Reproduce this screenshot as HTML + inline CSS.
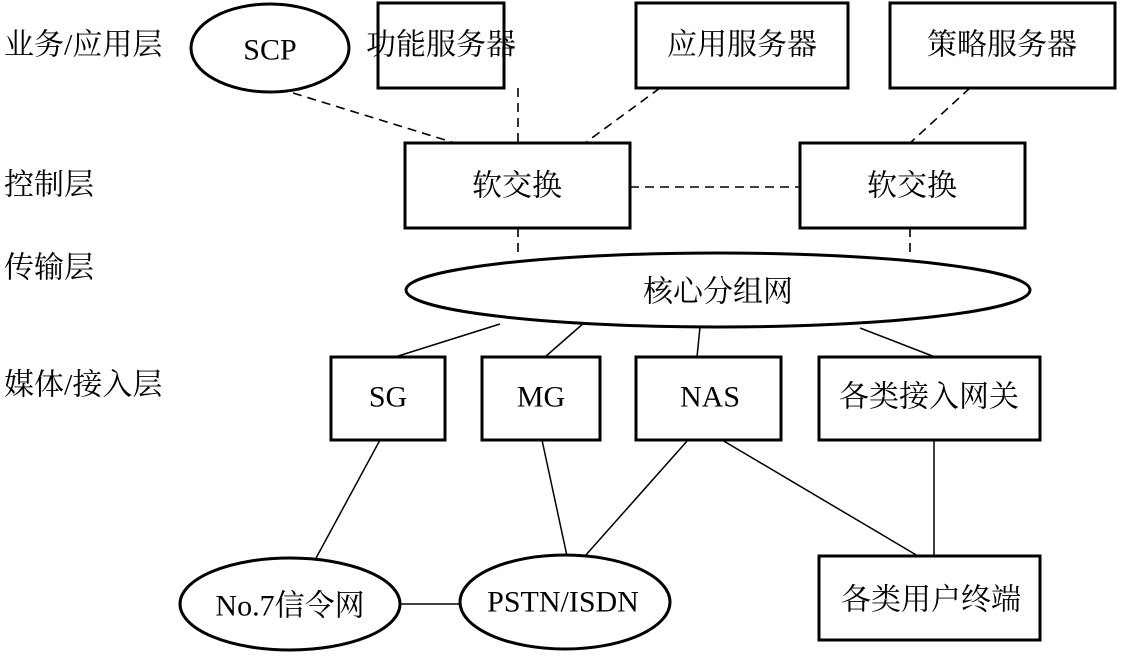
<!DOCTYPE html>
<html><head><meta charset="utf-8"><style>
body{margin:0;background:#fff}
svg text{font-family:"Liberation Serif","Noto Serif CJK SC","Noto Sans CJK SC",serif;fill:#000}
</style></head><body>
<svg width="1136" height="652" viewBox="0 0 1136 652" xmlns="http://www.w3.org/2000/svg">
<g font-size="30" dominant-baseline="central">
<text x="4" y="45">业务/应用层</text>
<text x="4" y="185">控制层</text>
<text x="4" y="268">传输层</text>
<text x="4" y="385">媒体/接入层</text>
</g>
<g stroke="#000" stroke-width="1.6" stroke-dasharray="9,6" fill="none">
<line x1="293" y1="93" x2="455" y2="143"/>
<line x1="518" y1="88" x2="518" y2="143"/>
<line x1="660" y1="88" x2="585" y2="143"/>
<line x1="970" y1="88" x2="910" y2="143"/>
<line x1="630" y1="187" x2="800" y2="187"/>
<line x1="518" y1="228" x2="518" y2="256"/>
<line x1="910" y1="228" x2="910" y2="256"/>
</g>
<g stroke="#000" stroke-width="1.5" fill="none">
<line x1="500" y1="324" x2="395" y2="357"/>
<line x1="585" y1="322" x2="545" y2="357"/>
<line x1="700" y1="327" x2="697" y2="357"/>
<line x1="860" y1="328" x2="935" y2="357"/>
<line x1="380" y1="440" x2="315" y2="560"/>
<line x1="542" y1="440" x2="567" y2="556"/>
<line x1="688" y1="440" x2="585" y2="556"/>
<line x1="722" y1="440" x2="918" y2="556"/>
<line x1="934" y1="440" x2="934" y2="556"/>
<line x1="400" y1="604" x2="460" y2="604"/>
</g>
<g stroke="#000" stroke-width="3" fill="#fff">
<ellipse cx="270" cy="48" rx="79" ry="44"/>
<rect x="378" y="3" width="126" height="85"/>
<rect x="636" y="3" width="212" height="85"/>
<rect x="890" y="3" width="225" height="85"/>
<rect x="405" y="143" width="225" height="85"/>
<rect x="800" y="143" width="225" height="85"/>
<ellipse cx="718" cy="290" rx="312" ry="37"/>
<rect x="331" y="357" width="114" height="83"/>
<rect x="482" y="357" width="118" height="83"/>
<rect x="636" y="357" width="145" height="83"/>
<rect x="819" y="357" width="221" height="83"/>
<ellipse cx="290" cy="604" rx="110" ry="46"/>
<ellipse cx="565" cy="602" rx="105" ry="47"/>
<rect x="819" y="556" width="221" height="84"/>
</g>
<g font-size="30" text-anchor="middle" dominant-baseline="central">
<text x="270" y="50">SCP</text>
<text x="441" y="45">功能服务器</text>
<text x="742" y="45">应用服务器</text>
<text x="1002" y="45">策略服务器</text>
<text x="517" y="186">软交换</text>
<text x="912" y="186">软交换</text>
<text x="718" y="292">核心分组网</text>
<text x="388" y="397">SG</text>
<text x="541" y="397">MG</text>
<text x="710" y="397">NAS</text>
<text x="929" y="397">各类接入网关</text>
<text x="290" y="606">No.7信令网</text>
<text x="563" y="602">PSTN/ISDN</text>
<text x="931" y="600">各类用户终端</text>
</g>
</svg>
</body></html>
